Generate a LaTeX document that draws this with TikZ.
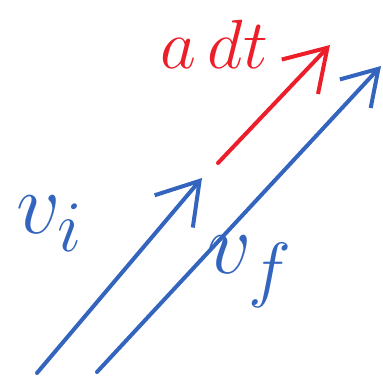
\documentclass[tikz,border=0pt]{standalone}
\usepackage{graphicx}
\usetikzlibrary{arrows.meta}
\definecolor{penblue}{RGB}{52,101,190}
\definecolor{penred}{RGB}{236,30,42}
\newcommand{\bigpen}[2]{\scalebox{#1}{$#2$}}

\begin{document}
\begin{tikzpicture}[x=1pt,y=-1pt,
  pen/.style={line width=4pt,line cap=round,line join=round,
    -{Straight Barb[length=40pt,width=50pt,line width=4pt]}},
  lbl/.style={inner sep=0pt,font=\Huge}]
\useasboundingbox (0,0) rectangle (383,377);
% end points
\coordinate (vi0) at (37,373);
\coordinate (vi1) at (202,178);
\coordinate (ad0) at (218,163);
\coordinate (ad1) at (330,45);
\coordinate (vf0) at (97,372);
\coordinate (vf1) at (381,66);
% vectors
\draw[pen,penblue] (vi0) -- (vi1);
\draw[pen,penred] (ad0) -- (ad1);
\draw[pen,penblue,-{Straight Barb[length=34pt,width=42pt,line width=4pt]}] (vf0) -- (vf1);
% labels
\node[lbl,text=penblue] (vi) at (50,224) {\bigpen{3.5}{v_i}};
\node[lbl,text=penred] (adt) at (214,44) {\bigpen{2.8}{a\,dt}};
\node[lbl,text=penblue] (vf) at (250,272) {\bigpen{3.5}{v_f}};
\end{tikzpicture}
\end{document}
